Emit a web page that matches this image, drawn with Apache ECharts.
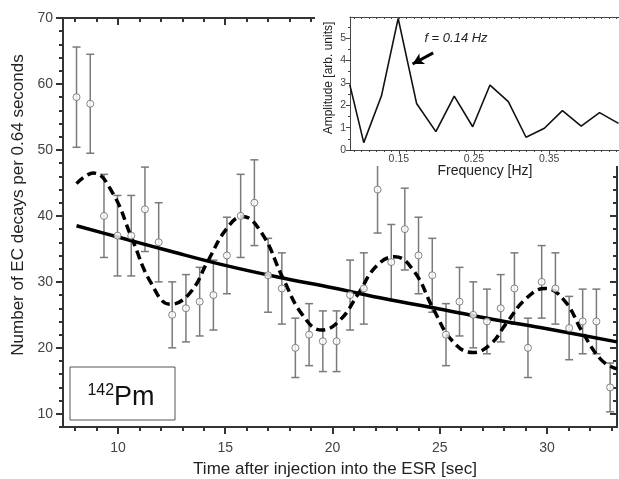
<!DOCTYPE html>
<html>
<head>
<meta charset="utf-8">
<script src="https://cdn.jsdelivr.net/npm/echarts@6/dist/echarts.min.js"></script>
<style>html,body{margin:0;padding:0;background:#fff}#c{width:619px;height:479px}</style>
</head>
<body>
<div id="c"></div>
<script>
// ---- main data (time bins of 0.64 s) ----
const times = [8.07, 8.71, 9.35, 9.98, 10.62, 11.26, 11.90, 12.53, 13.17, 13.81,
  14.45, 15.08, 15.72, 16.36, 17.00, 17.64, 18.27, 18.91, 19.55, 20.19,
  20.82, 21.46, 22.10, 22.74, 23.37, 24.01, 24.65, 25.29, 25.92, 26.56,
  27.20, 27.84, 28.48, 29.11, 29.75, 30.39, 31.03, 31.66, 32.30, 32.94];
const counts = [58, 57, 40, 37, 37, 41, 36, 25, 26, 27,
  28, 34, 40, 42, 31, 29, 20, 22, 21, 21,
  28, 29, 44, 33, 38, 34, 31, 22, 27, 25,
  24, 26, 29, 20, 30, 29, 23, 24, 24, 14];
const errors = [7.6, 7.5, 6.3, 6.1, 6.1, 6.4, 6.0, 5.0, 5.1, 5.2,
  5.3, 5.8, 6.3, 6.5, 5.6, 5.4, 4.5, 4.7, 4.6, 4.6,
  5.3, 5.4, 6.6, 5.7, 6.2, 5.8, 5.6, 4.7, 5.2, 5.0,
  4.9, 5.1, 5.4, 4.5, 5.5, 5.4, 4.8, 4.9, 4.9, 3.7];
// exponential fit (solid)
const expTimes = [8.07, 10, 12.5, 15, 17.5, 20, 22.5, 25, 27.5, 30, 33.26];
const expValues = [38.5, 36.8, 34.6, 32.5, 30.7, 29.1, 27.4, 25.9, 24.3, 22.9, 20.9];
// modulated fit (dashed)
const modTimes = [8.07, 8.85, 9.75, 10.65, 11.55, 12.45, 13.35, 14.2, 15.05, 15.8,
  16.7, 17.7, 18.6, 19.5, 20.35, 21.2, 22.05, 22.9, 23.8, 24.7,
  25.6, 26.55, 27.35, 28.1, 29.0, 29.9, 30.8, 31.7, 32.55, 33.26];
const modValues = [44.9, 46.5, 43.5, 36.6, 29.8, 26.6, 28.3, 33.2, 38.0, 39.9,
  37.4, 30.5, 25.0, 22.7, 24.2, 28.2, 32.4, 33.8, 31.6, 25.9,
  21.0, 19.3, 20.5, 23.7, 27.4, 29.0, 27.2, 22.1, 18.1, 16.8];
// axis ticks
const xMajor = [10, 15, 20, 25, 30];
const xMinor = [8, 9, 10, 11, 12, 13, 14, 15, 16, 17, 18, 19, 20, 21, 22, 23, 24, 25, 26, 27, 28, 29, 30, 31, 32, 33];
const yMajor = [10, 20, 30, 40, 50, 60, 70];
const yMinor = [8, 10, 12, 14, 16, 18, 20, 22, 24, 26, 28, 30, 32, 34, 36, 38, 40, 42, 44, 46, 48, 50, 52, 54, 56, 58, 60, 62, 64, 66, 68, 70];

// ---- inset (Fourier spectrum) ----
const freqs = [0.0847, 0.1033, 0.1269, 0.1491, 0.1736, 0.1993, 0.2237, 0.2483, 0.2713, 0.2957,
  0.3193, 0.3437, 0.3677, 0.3927, 0.4171, 0.4424];
const amps = [2.92, 0.33, 2.42, 5.88, 2.08, 0.82, 2.41, 1.04, 2.90, 2.16,
  0.57, 0.97, 1.76, 1.07, 1.67, 1.19];
const fMajor = [0.15, 0.25, 0.35];
const fMinor = [0.09, 0.10, 0.11, 0.12, 0.13, 0.14, 0.15, 0.16, 0.17, 0.18, 0.19, 0.20, 0.21, 0.22, 0.23, 0.24, 0.25,
  0.26, 0.27, 0.28, 0.29, 0.30, 0.31, 0.32, 0.33, 0.34, 0.35, 0.36, 0.37, 0.38, 0.39, 0.40, 0.41, 0.42, 0.43, 0.44];
const aMajor = [0, 1, 2, 3, 4, 5];
const aMinor = [0, 0.5, 1, 1.5, 2, 2.5, 3, 3.5, 4, 4.5, 5, 5.5];
const arrowFrom = [0.1957, 4.34];
const arrowTo = [0.1683, 3.84];

const FONT = 'Liberation Sans, Arial, sans-serif';
const AX = '#333';

const pointData = times.map((t, i) => [t, counts[i]]);
const errData = times.map((t, i) => [t, counts[i], errors[i]]);
const expData = expTimes.map((t, i) => [t, expValues[i]]);
const modData = modTimes.map((t, i) => [t, modValues[i]]);
const specData = freqs.map((f, i) => [f, amps[i]]);

function xAx(opts) {
  return Object.assign({
    type: 'value', gridIndex: 0, min: 7.44, max: 33.26,
    splitLine: { show: false },
    axisLine: { show: true, onZero: false, lineStyle: { color: AX, width: 2 } },
    axisLabel: { show: false }
  }, opts);
}
function yAx(opts) {
  return Object.assign({
    type: 'value', gridIndex: 0, min: 8, max: 70,
    splitLine: { show: false },
    axisLine: { show: true, onZero: false, lineStyle: { color: AX, width: 2 } },
    axisLabel: { show: false }
  }, opts);
}
function fx(opts) {
  return Object.assign({
    type: 'value', gridIndex: 1, min: 0.085, max: 0.443, z: 20,
    splitLine: { show: false },
    axisLine: { show: true, onZero: false, lineStyle: { color: '#444', width: 1 } },
    axisLabel: { show: false }
  }, opts);
}
function fy(opts) {
  return Object.assign({
    type: 'value', gridIndex: 1, min: 0, max: 5.94, z: 20,
    splitLine: { show: false },
    axisLine: { show: true, onZero: false, lineStyle: { color: '#444', width: 1 } },
    axisLabel: { show: false }
  }, opts);
}

const chart = echarts.init(document.getElementById('c'), null, { renderer: 'canvas' });
chart.setOption({
  animation: false,
  backgroundColor: '#fff',
  textStyle: { fontFamily: FONT },
  grid: [
    { left: 63, top: 18, right: 2, bottom: 52 },
    { left: 350, top: 17, right: 0, height: 133, z: 20 }
  ],
  xAxis: [
    xAx({ position: 'bottom',
      axisTick: { show: true, inside: false, length: 7, customValues: xMajor, lineStyle: { color: AX, width: 2 } },
      axisLabel: { show: true, customValues: xMajor, margin: 14, color: '#444', fontSize: 14, fontFamily: FONT } }),
    xAx({ position: 'bottom', axisLine: { show: false, onZero: false },
      axisTick: { show: true, inside: false, length: 4, customValues: xMinor, lineStyle: { color: AX, width: 2 } } }),
    xAx({ position: 'top',
      axisTick: { show: true, inside: true, length: 7, customValues: xMajor, lineStyle: { color: AX, width: 2 } } }),
    xAx({ position: 'top', axisLine: { show: false, onZero: false },
      axisTick: { show: true, inside: true, length: 4, customValues: xMinor, lineStyle: { color: AX, width: 2 } } }),
    fx({ position: 'bottom',
      axisTick: { show: true, inside: false, length: 4, customValues: fMajor, lineStyle: { color: '#444' } },
      axisLabel: { show: true, customValues: fMajor, margin: 4, color: '#444', fontSize: 10.5, fontFamily: FONT } }),
    fx({ position: 'bottom', axisLine: { show: false, onZero: false },
      axisTick: { show: true, inside: false, length: 2, customValues: fMinor, lineStyle: { color: '#444' } } }),
    fx({ position: 'top',
      axisTick: { show: true, inside: true, length: 2, customValues: fMinor, lineStyle: { color: '#444' } } })
  ],
  yAxis: [
    yAx({ position: 'left',
      axisTick: { show: true, inside: false, length: 7, customValues: yMajor, lineStyle: { color: AX, width: 2 } },
      axisLabel: { show: true, customValues: yMajor, margin: 10, color: '#444', fontSize: 14, fontFamily: FONT } }),
    yAx({ position: 'left', axisLine: { show: false, onZero: false },
      axisTick: { show: true, inside: false, length: 4, customValues: yMinor, lineStyle: { color: AX, width: 2 } } }),
    yAx({ position: 'right',
      axisTick: { show: true, inside: true, length: 7, customValues: yMajor, lineStyle: { color: AX, width: 2 } } }),
    yAx({ position: 'right', axisLine: { show: false, onZero: false },
      axisTick: { show: true, inside: true, length: 4, customValues: yMinor, lineStyle: { color: AX, width: 2 } } }),
    fy({ position: 'left',
      axisTick: { show: true, inside: false, length: 4, customValues: aMajor, lineStyle: { color: '#444' } },
      axisLabel: { show: true, customValues: aMajor, margin: 4, color: '#444', fontSize: 10.5, fontFamily: FONT } }),
    fy({ position: 'left', axisLine: { show: false, onZero: false },
      axisTick: { show: true, inside: false, length: 2, customValues: aMinor, lineStyle: { color: '#444' } } })
  ],
  series: [
    {
      type: 'custom', xAxisIndex: 0, yAxisIndex: 0, z: 2,
      data: errData,
      renderItem: function (params, api) {
        const t = api.value(0), v = api.value(1), e = api.value(2);
        const top = api.coord([t, v + e]);
        const bot = api.coord([t, v - e]);
        const w = 4;
        const st = { stroke: '#7a7a7a', lineWidth: 1.5 };
        return {
          type: 'group',
          children: [
            { type: 'line', shape: { x1: top[0], y1: top[1], x2: bot[0], y2: bot[1] }, style: st },
            { type: 'line', shape: { x1: top[0] - w, y1: top[1], x2: top[0] + w, y2: top[1] }, style: st },
            { type: 'line', shape: { x1: bot[0] - w, y1: bot[1], x2: bot[0] + w, y2: bot[1] }, style: st }
          ]
        };
      }
    },
    {
      type: 'line', xAxisIndex: 0, yAxisIndex: 0, z: 3,
      data: expData, smooth: 0.4, showSymbol: false, symbol: 'none',
      lineStyle: { color: '#000', width: 3.5 }
    },
    {
      type: 'line', xAxisIndex: 0, yAxisIndex: 0, z: 3,
      data: modData, smooth: 0.45, showSymbol: false, symbol: 'none',
      lineStyle: { color: '#000', width: 3.5, type: [9, 5] }
    },
    {
      type: 'scatter', xAxisIndex: 0, yAxisIndex: 0, z: 4,
      data: pointData, symbol: 'circle', symbolSize: 7,
      itemStyle: { color: '#fff', borderColor: '#666', borderWidth: 1 }
    },
    {
      type: 'line', xAxisIndex: 4, yAxisIndex: 4, z: 20,
      data: specData, showSymbol: false, symbol: 'none',
      lineStyle: { color: '#111', width: 1.6 },
      markLine: {
        silent: true, z: 25, symbol: ['none', 'arrow'], symbolSize: [9, 11],
        label: { show: false },
        lineStyle: { color: '#000', width: 3, type: 'solid' },
        data: [[{ coord: arrowFrom }, { coord: arrowTo }]]
      }
    }
  ],
  graphic: [
    { type: 'rect', z: 10, shape: { x: 315, y: 0, width: 304, height: 166 }, style: { fill: '#fff' } },
    { type: 'text', z: 12, x: 18, y: 205, rotation: Math.PI / 2,
      style: { text: 'Number of EC decays per 0.64 seconds', font: '17px ' + FONT, fill: '#222', align: 'center', verticalAlign: 'middle' } },
    { type: 'text', z: 12, x: 335, y: 469,
      style: { text: 'Time after injection into the ESR [sec]', font: '17px ' + FONT, fill: '#222', align: 'center', verticalAlign: 'middle' } },
    { type: 'text', z: 30, x: 328.5, y: 78, rotation: Math.PI / 2,
      style: { text: 'Amplitude [arb. units]', font: '12px ' + FONT, fill: '#222', align: 'center', verticalAlign: 'middle' } },
    { type: 'text', z: 30, x: 485, y: 171,
      style: { text: 'Frequency [Hz]', font: '14px ' + FONT, fill: '#222', align: 'center', verticalAlign: 'middle' } },
    { type: 'text', z: 30, x: 456, y: 38,
      style: { text: 'f = 0.14 Hz', font: 'italic 13px ' + FONT, fill: '#222', align: 'center', verticalAlign: 'middle' } },
    { type: 'rect', z: 12, shape: { x: 70, y: 367, width: 105, height: 53 }, style: { fill: '#fff', stroke: '#555', lineWidth: 1 } },
    { type: 'text', z: 13, x: 121, y: 398,
      style: { text: '{s|142}{b|Pm}', align: 'center', verticalAlign: 'middle', fill: '#111',
        rich: { s: { fontSize: 16, fontFamily: FONT, fill: '#111', verticalAlign: 'top', padding: [0, 0, 14, 0] },
                b: { fontSize: 27, fontFamily: FONT, fill: '#111' } } } }
  ]
});
</script>
</body>
</html>
